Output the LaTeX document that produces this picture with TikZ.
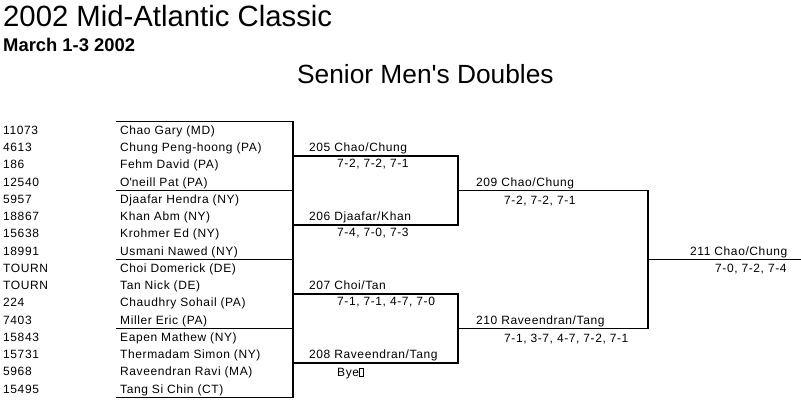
\documentclass[tikz,border=0pt]{standalone}
\usepackage{fontspec}
\setmainfont{Liberation Sans}
\newfontfamily\smallf[LetterSpace=5]{Liberation Sans}
\begin{document}
\begin{tikzpicture}[x=1pt,y=-1pt,
  txt/.style={inner sep=0pt, anchor=base west, font=\smallf\fontsize{12}{14}\selectfont},
  br/.style={line width=1.8pt, line cap=rect, line join=miter}]
\fill[white] (0,0) rectangle (801,404);
\useasboundingbox (0,0) rectangle (801,404);

% titles
\node[inner sep=0pt, anchor=base west, font=\fontsize{29.3}{34}\selectfont] (title) at (3,27) {2002 Mid-Atlantic Classic};
\node[inner sep=0pt, anchor=base west, font=\bfseries\fontsize{18.4}{21}\selectfont] (date) at (3,52) {March 1-3 2002};
\node[inner sep=0pt, anchor=base west, font=\fontsize{26.3}{30}\selectfont] (event) at (297,84) {Senior Men\textquotesingle s Doubles};

% players
\foreach \num/\nm [count=\i from 0] in {
  11073/{Chao Gary (MD)}, 4613/{Chung Peng-hoong (PA)}, 186/{Fehm David (PA)}, 12540/{O\textquotesingle neill Pat (PA)},
  5957/{Djaafar Hendra (NY)}, 18867/{Khan Abm (NY)}, 15638/{Krohmer Ed (NY)}, 18991/{Usmani Nawed (NY)},
  TOURN/{Choi Domerick (DE)}, TOURN/{Tan Nick (DE)}, 224/{Chaudhry Sohail (PA)}, 7403/{Miller Eric (PA)},
  15843/{Eapen Mathew (NY)}, 15731/{Thermadam Simon (NY)}, 5968/{Raveendran Ravi (MA)}, 15495/{Tang Si Chin (CT)}}{
  \node[txt] (num\i) at (3,{134.3+17.25*\i}) {\num};
  \node[txt] (nm\i) at (120,{134.3+17.25*\i}) {\nm};
}

% bracket coordinates
\coordinate (a0) at (117,121.4); \coordinate (a1) at (117,190.4); \coordinate (a2) at (117,259.4);
\coordinate (a3) at (117,328.4); \coordinate (a4) at (117,397.4);
\coordinate (b0) at (293,121.4); \coordinate (b1) at (293,190.4); \coordinate (b2) at (293,259.4);
\coordinate (b3) at (293,328.4); \coordinate (b4) at (293,397.4);
\coordinate (c0) at (293,155.9); \coordinate (c1) at (293,224.9); \coordinate (c2) at (293,293.9); \coordinate (c3) at (293,362.9);
\coordinate (d0) at (458,155.9); \coordinate (d1) at (458,224.9); \coordinate (d2) at (458,293.9); \coordinate (d3) at (458,362.9);
\coordinate (e0) at (458,190.4); \coordinate (e1) at (458,328.4);
\coordinate (f0) at (648,190.4); \coordinate (f1) at (648,328.4);
\coordinate (g) at (648,259.4); \coordinate (h) at (801,259.4);

\draw[br] (a0) -- (b0) -- (b4) -- (a4);
\draw[br] (a1) -- (b1);
\draw[br] (a2) -- (b2);
\draw[br] (a3) -- (b3);
\draw[br] (c0) -- (d0) -- (d1) -- (c1);
\draw[br] (c2) -- (d2) -- (d3) -- (c3);
\draw[br] (e0) -- (f0) -- (f1) -- (e1);
\draw[br] (g) -- (h);

% round 2
\node[txt] (m205) at (309,151.9) {205 Chao/Chung};
\node[txt] (s205) at (337,167.2) {7-2, 7-2, 7-1};
\node[txt] (m206) at (309,220.9) {206 Djaafar/Khan};
\node[txt] (s206) at (337,236.2) {7-4, 7-0, 7-3};
\node[txt] (m207) at (309,289.9) {207 Choi/Tan};
\node[txt] (s207) at (337,305.2) {7-1, 7-1, 4-7, 7-0};
\node[txt] (m208) at (309,358.9) {208 Raveendran/Tang};
\node[txt] (s208) at (337,376.4) {Bye{\fboxsep=0pt\fboxrule=0.6pt\fbox{\rule{0pt}{8pt}\hspace{3.5pt}}}};

% round 3
\node[txt] (m209) at (476,186.4) {209 Chao/Chung};
\node[txt] (s209) at (504,204.4) {7-2, 7-2, 7-1};
\node[txt] (m210) at (476,324.4) {210 Raveendran/Tang};
\node[txt] (s210) at (504,342.4) {7-1, 3-7, 4-7, 7-2, 7-1};

% final
\node[txt] (m211) at (690,255.4) {211 Chao/Chung};
\node[txt] (s211) at (715,272.6) {7-0, 7-2, 7-4};
\end{tikzpicture}
\end{document}
